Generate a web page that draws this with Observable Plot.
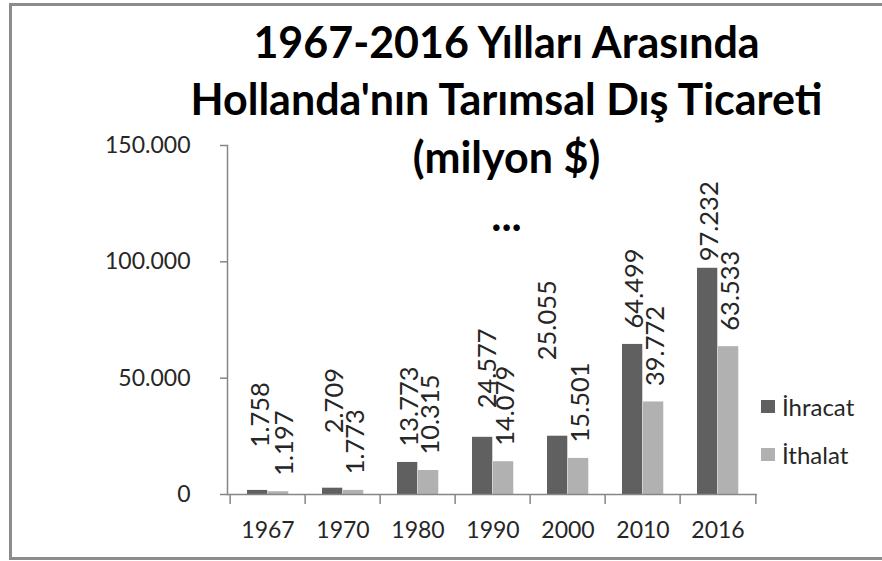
<!DOCTYPE html>
<html>
<head>
<meta charset="utf-8">
<script src="https://cdn.jsdelivr.net/npm/d3@7"></script>
<script src="https://cdn.jsdelivr.net/npm/@observablehq/plot@0.6"></script>
<style>
  html, body { margin: 0; padding: 0; background: #fff; }
  #wrap { position: relative; width: 882px; height: 561px; overflow: hidden; font-family: Lato, sans-serif; }
  #border { position: absolute; left: 9px; top: 3px; width: 900px; height: 557px; border: 3px solid #8c8c8c; border-right: none; box-sizing: border-box; }
  #legend { position: absolute; left: 761px; top: 382px; font-size: 24px; color: #262626; }
  .item { display: flex; align-items: center; height: 48px; }
  .sw { width: 14px; height: 13px; margin-right: 7px; }
</style>
</head>
<body>
<div id="wrap">
  <div id="border"></div>
  <div id="chart"></div>
  <div id="legend"></div>
</div>
<script>
// ---- data ----
const years = ["1967", "1970", "1980", "1990", "2000", "2010", "2016"];
const ihracat = [1758, 2709, 13773, 24577, 25055, 64499, 97232];
const ithalat = [1197, 1773, 10315, 14079, 15501, 39772, 63533];
const seriesNames = ["İhracat", "İthalat"];
const yTicks = [0, 50000, 100000, 150000];
const titleLines = ["1967-2016 Yılları Arasında", "Hollanda'nın Tarımsal Dış Ticareti", "(milyon $)", "..."];

// ---- style ----
const colors = ["#606060", "#b1b1b1"];
const axisGray = "#868686";
const textColor = "#262626";
const W = 882, H = 561, mL = 227, mR = 125, mT = 145, mB = 67;
const bw = (W - mL - mR) / years.length;
const outerGap = 17, barW = 21;
const labelSize = 25.5;
// manual label nudges (as placed in the original)
const liftIhr = {"1967": 27, "1970": 39, "1990": 13, "2000": 60, "2016": -9};
const shiftIhr = {"2000": -12, "1967": 1, "1990": 3};
const shiftIth = {"1967": 4};

const loc = d3.formatLocale({decimal: ",", thousands: ".", grouping: [3], currency: ["", ""]});
const fmt = loc.format(",d");

const rows = years.map((y, i) => ({year: y, ihracat: ihracat[i], ithalat: ithalat[i]}));

const labelMarks = rows.flatMap(r => [
  Plot.text([r], {
    x: "year", y: "ihracat", text: d => fmt(d.ihracat), rotate: -90,
    textAnchor: "start", lineAnchor: "middle", fontSize: labelSize, fill: textColor,
    dx: (outerGap + barW / 2 - bw / 2) + 2 + (shiftIhr[r.year] || 0),
    dy: -(16 + (liftIhr[r.year] || 0))
  }),
  Plot.text([r], {
    x: "year", y: "ithalat", text: d => fmt(d.ithalat), rotate: -90,
    textAnchor: "start", lineAnchor: "middle", fontSize: labelSize, fill: textColor,
    dx: (outerGap + barW * 1.5 - bw / 2) + 2 + (shiftIth[r.year] || 0),
    dy: -16
  })
]);

const chart = Plot.plot({
  width: W, height: H,
  marginLeft: mL, marginRight: mR, marginTop: mT, marginBottom: mB,
  style: {fontFamily: "Lato, sans-serif", fontSize: "23px", color: textColor, background: "transparent", overflow: "visible"},
  x: {type: "band", domain: years, padding: 0},
  y: {domain: [0, 150000]},
  marks: [
    Plot.barY(rows, {x: "year", y: "ihracat", fill: colors[0], insetLeft: outerGap, insetRight: bw - outerGap - barW}),
    Plot.barY(rows, {x: "year", y: "ithalat", fill: colors[1], insetLeft: outerGap + barW, insetRight: bw - outerGap - 2 * barW}),
    Plot.ruleY([0], {stroke: axisGray, strokeWidth: 1.5}),
    Plot.frame({anchor: "left", stroke: axisGray, strokeWidth: 1.5}),
    Plot.ruleX(years, {x: d => d, y1: 0, y2: 0, insetBottom: -10, dx: -bw / 2, stroke: axisGray, strokeWidth: 1.5}),
    Plot.ruleX([years[years.length - 1]], {x: d => d, y1: 0, y2: 0, insetBottom: -10, dx: bw / 2, stroke: axisGray, strokeWidth: 1.5}),
    Plot.axisY(yTicks, {tickSize: 7, tickPadding: 30, tickFormat: fmt, fontSize: 23, stroke: axisGray, strokeWidth: 1.5, fill: textColor, label: null}),
    Plot.axisX(years, {tickSize: 0, tickPadding: 27, fontSize: 23, fill: textColor, label: null}),
    ...labelMarks,
    Plot.text([titleLines.join("\n")], {
      frameAnchor: "top", text: d => d, fontSize: 43, fontWeight: "bold",
      lineAnchor: "bottom", lineHeight: 1.34, dx: 14, dy: 85, fill: "#000"
    })
  ]
});
document.getElementById("chart").appendChild(chart);

const legend = document.getElementById("legend");
seriesNames.forEach((name, i) => {
  const item = document.createElement("div");
  item.className = "item";
  const sw = document.createElement("span");
  sw.className = "sw";
  sw.style.background = colors[i];
  const t = document.createElement("span");
  t.textContent = name;
  item.appendChild(sw); item.appendChild(t);
  legend.appendChild(item);
});
</script>
</body>
</html>
